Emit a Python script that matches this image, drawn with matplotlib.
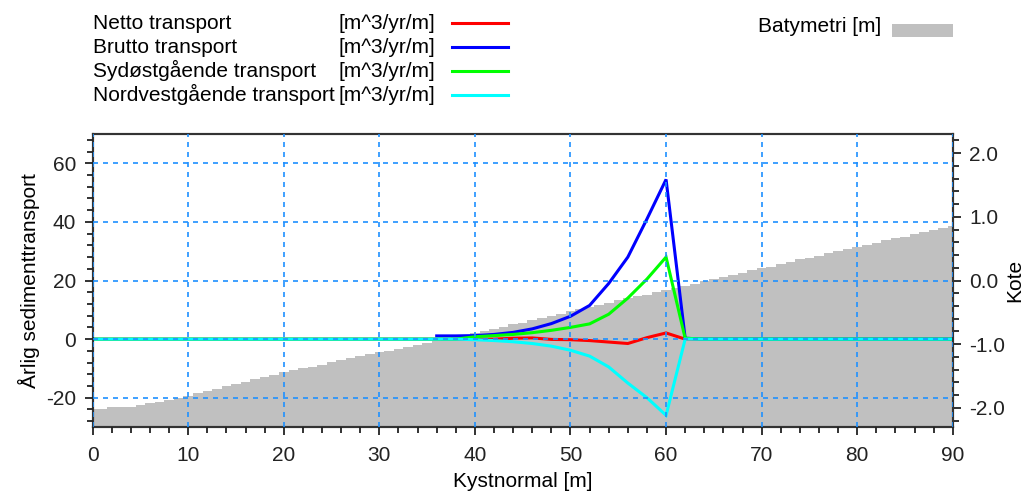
import numpy as np
import matplotlib
matplotlib.use('Agg')
from matplotlib import pyplot as plt
from matplotlib.lines import Line2D
from matplotlib.patches import Rectangle
from matplotlib.ticker import MultipleLocator, FormatStrFormatter

plt.rcParams['font.family'] = ['Liberation Sans', 'DejaVu Sans']
plt.rcParams['axes.unicode_minus'] = False

# ******** DATA
# cross-shore position [m], transport sampled every 2 m
nan = float('nan')
x_transport = list(range(0, 92, 2))
netto = [0.0] * 20 + [0.0, 0.0, 0.3, 0.4, -0.1, -0.2, -0.5, -1.0, -1.5, 0.5, 2.1, 0.0] + [0.0] * 14
brutto = [nan] * 18 + [1.1, 1.1, 1.2, 1.6, 2.3, 3.5, 5.3, 7.8, 11.5, 19.0, 28.0, 41.0, 54.5, 0.3] + [0.0] * 14
sydost = [0.0] * 20 + [0.8, 1.2, 1.6, 2.2, 3.0, 4.0, 5.2, 8.5, 14.0, 20.5, 28.0, 0.3] + [0.0] * 14
nordvest = [0.0] * 20 + [-0.2, -0.5, -0.9, -1.5, -2.4, -3.8, -5.8, -9.5, -15.0, -20.0, -26.0, 0.0] + [0.0] * 14

# bathymetry [m], every 1 m from 0 to 90
x_bath = list(range(0, 91))
batymetri = [
    -2.01, -2.01, -1.98, -1.98, -1.98, -1.96, -1.93, -1.90, -1.87, -1.84,
    -1.81, -1.77, -1.74, -1.70, -1.66, -1.62, -1.59, -1.55, -1.51, -1.48,
    -1.44, -1.41, -1.38, -1.35, -1.32, -1.28, -1.25, -1.22, -1.19, -1.16,
    -1.13, -1.10, -1.07, -1.04, -1.01, -0.98, -0.95, -0.92, -0.89, -0.86,
    -0.83, -0.80, -0.76, -0.73, -0.69, -0.66, -0.62, -0.59, -0.55, -0.52,
    -0.48, -0.45, -0.41, -0.38, -0.35, -0.31, -0.28, -0.25, -0.22, -0.18,
    -0.15, -0.12, -0.08, -0.05, -0.01, 0.02, 0.05, 0.09, 0.12, 0.16,
    0.19, 0.22, 0.26, 0.29, 0.33, 0.36, 0.39, 0.43, 0.46, 0.49,
    0.53, 0.56, 0.59, 0.63, 0.66, 0.69, 0.73, 0.76, 0.79, 0.83,
    0.86,
]

series = [
    ('Netto transport', netto, '#ff0000'),
    ('Brutto transport', brutto, '#0000ff'),
    ('Sydøstgående transport', sydost, '#00ff00'),
    ('Nordvestgående transport', nordvest, '#00ffff'),
]
unit = '[m^3/yr/m]'
# ******** DATA

fs = 15
fig = plt.figure(figsize=(10.31, 4.94), dpi=100)
ax = fig.add_axes([0.0899, 0.1356, 0.8342, 0.5931])
ax2 = ax.twinx()

# bathymetry on the right axis, drawn behind the transport lines
ax2.fill_between(x_bath, batymetri, -5, step='mid', color='#c0c0c0', lw=0)
ax2.set_ylim(-2.3, 2.3)
ax2.yaxis.set_major_locator(MultipleLocator(1.0))
ax2.yaxis.set_minor_locator(MultipleLocator(0.2))
ax2.yaxis.set_major_formatter(FormatStrFormatter('%.1f'))
ax2.set_ylabel('Kote', fontsize=fs, labelpad=0)
ax.set_zorder(ax2.get_zorder() + 1)
ax.patch.set_visible(False)

for label, vals, col in series:
    ax.plot(x_transport, vals, color=col, lw=2.2, solid_joinstyle='miter')

ax.set_xlim(0, 90)
ax.set_ylim(-30, 70)
ax.xaxis.set_major_locator(MultipleLocator(10))
ax.xaxis.set_minor_locator(MultipleLocator(2))
ax.yaxis.set_major_locator(MultipleLocator(20))
ax.yaxis.set_minor_locator(MultipleLocator(4))
ax.set_axisbelow(False)
ax.grid(True, which='major', color='#1e90ff', ls=(0, (3, 3)), lw=1.2)
ax.set_xlabel('Kystnormal [m]', fontsize=fs, labelpad=5)
ax.set_ylabel('Årlig sedimenttransport', fontsize=fs, labelpad=4)

for a in (ax, ax2):
    a.tick_params(which='major', length=6, width=1.3, labelsize=fs,
                  colors='#222222', direction='out', pad=6)
    a.tick_params(which='minor', length=4, width=1.3, colors='#222222',
                  direction='out')
    for sp in a.spines.values():
        sp.set_linewidth(1.5)
        sp.set_color('#333333')
ax.tick_params(axis='x', which='major', pad=8)

# legend block above the axes
W, H = 1031, 494
row_y = [23, 47, 71, 95]
for (label, vals, col), yy in zip(series, row_y):
    base = 1 - (yy + 6) / H
    fig.text(93 / W, base, label, fontsize=fs, va='baseline', ha='left')
    fig.text(338 / W, base, unit, fontsize=fs, va='baseline', ha='left')
    fig.add_artist(Line2D([452 / W, 508 / W], [1 - yy / H, 1 - yy / H],
                          color=col, lw=2.2, transform=fig.transFigure))
fig.text(758 / W, 1 - 32 / H, 'Batymetri [m]', fontsize=fs, va='baseline', ha='left')
fig.add_artist(Rectangle((892 / W, 1 - 37 / H), 61 / W, 13 / H,
                         color='#c0c0c0', lw=0, transform=fig.transFigure))

plt.savefig('out.png', dpi=100)
